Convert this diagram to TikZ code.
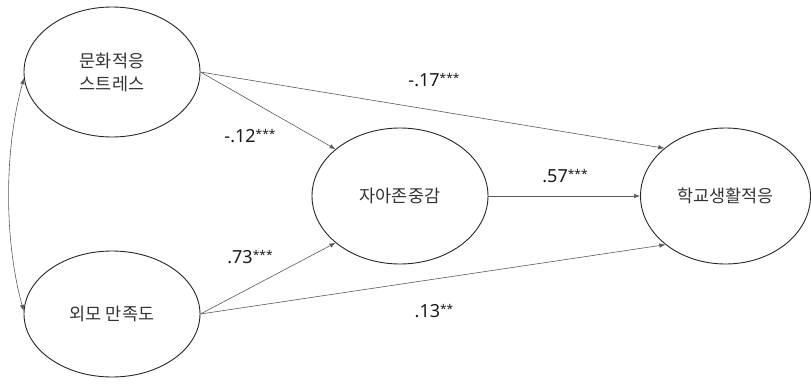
\documentclass[tikz,border=0pt]{standalone}
\usepackage{fontspec}
\setmainfont{Noto Sans}
\newfontfamily\kr{Noto Sans CJK KR}
\usetikzlibrary{arrows.meta,shapes.geometric}
\newcommand\sigstars[1]{\raisebox{3.6pt}{\fontsize{12}{12}\selectfont #1}}
\begin{document}
\begin{tikzpicture}[x=1pt,y=-1pt,
  latent/.style={ellipse,draw=black!85,line width=0.9pt,inner sep=0pt,
    font=\kr\fontsize{17.5}{23}\selectfont,text=black!80,align=center},
  path/.style={draw=black!65,line width=0.6pt,-{Latex[length=6pt,width=4.5pt]}},
  coef/.style={font=\fontsize{18}{18}\selectfont,text=black!90,inner sep=0pt}]
\useasboundingbox (0,0) rectangle (811,388);
\node[latent,minimum width=176pt,minimum height=130pt] (e1) at (112,72) {문화적응\\스트레스};
\node[latent,minimum width=176pt,minimum height=126pt] (e2) at (112,314) {외모 만족도};
\node[latent,minimum width=176pt,minimum height=136pt] (e3) at (400,196) {자아존중감};
\node[latent,minimum width=170pt,minimum height=136pt] (e4) at (725.5,196) {학교생활적응};

\draw[path,{Latex[length=6pt,width=4.5pt]}-{Latex[length=6pt,width=4.5pt]}]
  (e1.184) .. controls (4,150) and (4,240) .. (e2.178);
\draw[path] (e1.east) -- (e3.144);
\draw[path] (e1.east) -- (e4.142);
\draw[path] (e2.east) -- (e3.216);
\draw[path] (e2.east) -- (e4.219);
\draw[path] (e3.east) -- (e4.west);

\node[coef] (c1) at (434,80) {-.17\sigstars{***}};
\node[coef] (c2) at (250,136) {-.12\sigstars{***}};
\node[coef] (c3) at (565,176) {.57\sigstars{***}};
\node[coef] (c4) at (250,257) {.73\sigstars{***}};
\node[coef] (c5) at (434,311) {.13\sigstars{**}};
\end{tikzpicture}
\end{document}
